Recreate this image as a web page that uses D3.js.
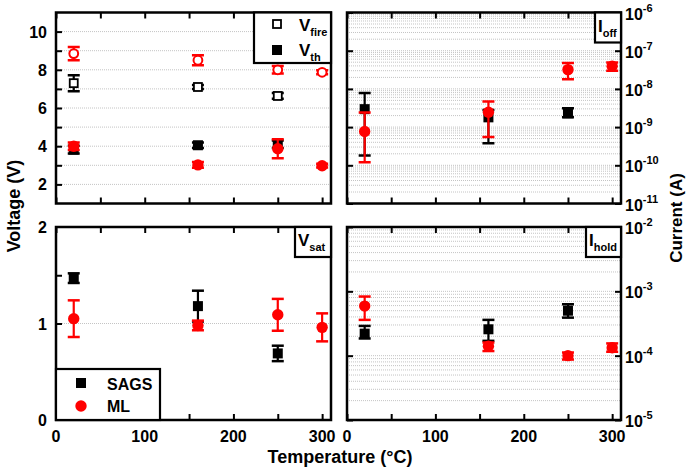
<!DOCTYPE html>
<html><head><meta charset="utf-8">
<script src="https://cdnjs.cloudflare.com/ajax/libs/d3/7.8.5/d3.min.js"></script>
<style>
html,body{margin:0;padding:0;background:#fff;}
svg{display:block;font-family:"Liberation Sans",Arial,sans-serif;font-weight:bold;}
</style></head>
<body><svg id="c" width="686" height="472"></svg>
<script>
// ---- data ----
const tempsSAGS = [20, 160, 250];
const tempsML = [20, 160, 250, 300];

const vfireSAGS = [7.3, 7.1, 6.63];
const vfireSAGSerr = [0.42, 0.1, 0.15];
const vfireML = [8.85, 8.5, 8.0, 7.87];
const vfireMLerr = [0.35, 0.26, 0.2, 0.1];
const vthSAGS = [3.82, 4.05, 4.1];
const vthSAGSerr = [0.2, 0.15, 0.2];
const vthML = [4.0, 3.02, 3.87, 2.98];
const vthMLerr = [0.2, 0.15, 0.5, 0.1];

const vsatSAGS = [1.47, 1.18, 0.69];
const vsatSAGSerr = [0.05, 0.16, 0.08];
const vsatML = [1.05, 0.98, 1.09, 0.96];
const vsatMLerr = [0.19, 0.05, 0.165, 0.145];

const ioffSAGS = [2.95e-9, 1.8e-9, 2.3e-9];
const ioffSAGSlo = [1.8e-10, 3.8e-10, 1.8e-9];
const ioffSAGShi = [7.8e-9, 2.8e-9, 3.1e-9];
const ioffML = [7.7e-10, 2.45e-9, 3.2e-8, 3.9e-8];
const ioffMLlo = [1.2e-10, 5.5e-10, 1.8e-8, 3.0e-8];
const ioffMLhi = [2.4e-9, 4.7e-9, 4.8e-8, 4.9e-8];

const iholdSAGS = [2.2e-4, 2.57e-4, 5.0e-4];
const iholdSAGSlo = [1.85e-4, 1.7e-4, 3.9e-4];
const iholdSAGShi = [2.9e-4, 3.6e-4, 6.3e-4];
const iholdML = [5.9e-4, 1.4e-4, 1.0e-4, 1.33e-4];
const iholdMLlo = [3.6e-4, 1.18e-4, 0.87e-4, 1.15e-4];
const iholdMLhi = [8.3e-4, 1.6e-4, 1.12e-4, 1.55e-4];

const xTicks = [0, 100, 200, 300];
const xMinorTicks = [50, 150, 250];
const vTopTicks = [2, 4, 6, 8, 10];
const vBotTicks = [0, 1, 2];
const ioffTicks = [-11, -10, -9, -8, -7, -6];
const iholdTicks = [-5, -4, -3, -2];

// ---- drawing ----
const svg = d3.select("#c");
const RED = "#ff0000", BLK = "#000000";

function zip(xs, ys, lo, hi) {
  return xs.map((x, i) => ({x, y: ys[i], lo: lo[i], hi: hi[i]}));
}
function sym(xs, ys, e) { return zip(xs, ys, ys.map((v,i)=>v-e[i]), ys.map((v,i)=>v+e[i])); }

function panel(opt) {
  const {x0, x1, y0, y1} = opt;
  const g = svg.append("g");
  const x = d3.scaleLinear().domain([0, 310]).range([x0, x1]);
  const y = (opt.log ? d3.scaleLog() : d3.scaleLinear()).domain(opt.ydom).range([y1, y0]);
  g.append("g").selectAll("line").data(opt.grid).join("line")
    .attr("x1", x0).attr("x2", x1).attr("y1", d => y(d)).attr("y2", d => y(d))
    .attr("stroke", "#c4c4c4").attr("stroke-width", 1).attr("stroke-dasharray", "1,1");
  const allx = xTicks.concat(xMinorTicks);
  const tl = 6;
  g.append("g").call(d3.axisBottom(x).tickValues(allx).tickSize(-tl).tickFormat(""))
    .attr("transform", `translate(0,${y1})`).call(a => a.select(".domain").remove());
  g.append("g").call(d3.axisTop(x).tickValues(allx).tickSize(-tl).tickFormat(""))
    .attr("transform", `translate(0,${y0})`).call(a => a.select(".domain").remove());
  g.append("g").call(d3.axisLeft(y).tickValues(opt.yticks).tickSize(-tl).tickFormat(""))
    .attr("transform", `translate(${x0},0)`).call(a => a.select(".domain").remove());
  if (opt.rightTicks) {
    g.append("g").call(d3.axisRight(y).tickValues(opt.yticks).tickSize(-tl).tickFormat(""))
      .attr("transform", `translate(${x1},0)`).call(a => a.select(".domain").remove());
  }
  g.selectAll(".tick line").attr("stroke", "#000").attr("stroke-width", 2);
  if (opt.xlabels) {
    g.append("g").selectAll("text").data(xTicks).join("text")
      .attr("x", d => x(d)).attr("y", y1 + 22).attr("text-anchor", "middle")
      .attr("font-size", 16).text(d => d);
  }
  if (opt.ylabelsLeft) {
    g.append("g").selectAll("text").data(opt.ylabelsLeft).join("text")
      .attr("x", x0 - 9).attr("y", d => y(d) + 6).attr("text-anchor", "end")
      .attr("font-size", 16).text(d => d);
  }
  if (opt.ylabelsRight) {
    const t = g.append("g").selectAll("text").data(opt.ylabelsRight).join("text")
      .attr("x", x1 + 4).attr("y", d => y(Math.pow(10, d)) + 7).attr("font-size", 16);
    t.append("tspan").text("10");
    t.append("tspan").attr("font-size", 11).attr("dy", -8).text(d => "-" + Math.abs(d));
  }
  const clip = "clip" + Math.round(x0) + "_" + Math.round(y0);
  svg.append("clipPath").attr("id", clip).append("rect")
    .attr("x", x0).attr("y", y0).attr("width", x1 - x0).attr("height", y1 - y0);
  const sg = g.append("g").attr("clip-path", `url(#${clip})`);
  opt.series.forEach(s => {
    const eg = sg.append("g");
    eg.selectAll("line.v").data(s.data).join("line")
      .attr("x1", d => x(d.x)).attr("x2", d => x(d.x))
      .attr("y1", d => y(d.lo)).attr("y2", d => y(d.hi))
      .attr("stroke", s.color).attr("stroke-width", 2.2);
    ["lo", "hi"].forEach(k => {
      eg.selectAll("line." + k).data(s.data).join("line")
        .attr("x1", d => x(d.x) - 6).attr("x2", d => x(d.x) + 6)
        .attr("y1", d => y(d[k])).attr("y2", d => y(d[k]))
        .attr("stroke", s.color).attr("stroke-width", 2.5);
    });
    const mg = sg.append("g");
    if (s.shape === "square") {
      const sz = s.open ? 8 : 10;
      mg.selectAll("rect").data(s.data).join("rect")
        .attr("x", d => x(d.x) - sz / 2).attr("y", d => y(d.y) - sz / 2)
        .attr("width", sz).attr("height", sz)
        .attr("fill", s.open ? "#fff" : s.color)
        .attr("stroke", s.color).attr("stroke-width", s.open ? 1.8 : 0);
    } else {
      const r = s.open ? 4.4 : 5.7;
      mg.selectAll("circle").data(s.data).join("circle")
        .attr("cx", d => x(d.x)).attr("cy", d => y(d.y)).attr("r", r)
        .attr("fill", s.open ? "#fff" : s.color)
        .attr("stroke", s.color).attr("stroke-width", s.open ? 2 : 0);
    }
  });
  g.append("rect").attr("x", x0).attr("y", y0).attr("width", x1 - x0).attr("height", y1 - y0)
    .attr("fill", "none").attr("stroke", "#000").attr("stroke-width", 2.5);
  if (opt.label) {
    const L = opt.label;
    g.append("rect").attr("x", x1 - L.w).attr("y", y0).attr("width", L.w).attr("height", L.h)
      .attr("fill", "#fff").attr("stroke", "#000").attr("stroke-width", 2.2);
    const t = g.append("text").attr("x", x1 - L.w + 3).attr("y", y0 + 19).attr("font-size", 17);
    t.append("tspan").text(L.main);
    t.append("tspan").attr("font-size", 11).attr("dy", 5).text(L.sub);
  }
  return {x, y, g};
}

const gridLin1 = d3.range(2, 11);
function logGrid(a, b) {
  const out = [];
  for (let e = a; e < b; e++) for (let k = 1; k < 10; k++) out.push(k * Math.pow(10, e));
  return out;
}

panel({
  x0: 56, x1: 331, y0: 12.5, y1: 203.5, ydom: [1, 11],
  grid: gridLin1, yticks: d3.range(2, 11), ylabelsLeft: vTopTicks,
  series: [
    {data: sym(tempsSAGS, vfireSAGS, vfireSAGSerr), color: BLK, shape: "square", open: true},
    {data: sym(tempsSAGS, vthSAGS, vthSAGSerr), color: BLK, shape: "square", open: false},
    {data: sym(tempsML, vfireML, vfireMLerr), color: RED, shape: "circle", open: true},
    {data: sym(tempsML, vthML, vthMLerr), color: RED, shape: "circle", open: false}
  ]
});
{
  const g = svg.append("g");
  g.append("rect").attr("x", 254).attr("y", 12.5).attr("width", 77).attr("height", 50.5)
    .attr("fill", "#fff").attr("stroke", "#000").attr("stroke-width", 2.2);
  g.append("rect").attr("x", 273).attr("y", 20).attr("width", 8).attr("height", 8)
    .attr("fill", "#fff").attr("stroke", "#000").attr("stroke-width", 1.8);
  g.append("rect").attr("x", 272).attr("y", 45).attr("width", 10).attr("height", 10).attr("fill", "#000");
  const t1 = g.append("text").attr("x", 299).attr("y", 31).attr("font-size", 17);
  t1.append("tspan").text("V");
  t1.append("tspan").attr("font-size", 11).attr("dy", 5).text("fire");
  const t2 = g.append("text").attr("x", 299).attr("y", 56).attr("font-size", 17);
  t2.append("tspan").text("V");
  t2.append("tspan").attr("font-size", 11).attr("dy", 5).text("th");
}

panel({
  x0: 347, x1: 621, y0: 12.5, y1: 203.5, ydom: [1e-11, 1e-6], log: true,
  grid: logGrid(-11, -6), yticks: ioffTicks.map(e => Math.pow(10, e)), rightTicks: true,
  ylabelsRight: ioffTicks,
  label: {w: 26, h: 30, main: "I", sub: "off"},
  series: [
    {data: zip(tempsSAGS, ioffSAGS, ioffSAGSlo, ioffSAGShi), color: BLK, shape: "square"},
    {data: zip(tempsML, ioffML, ioffMLlo, ioffMLhi), color: RED, shape: "circle"}
  ]
});

panel({
  x0: 56, x1: 331, y0: 227, y1: 420, ydom: [0, 2],
  grid: [1], yticks: [0.5, 1, 1.5], ylabelsLeft: vBotTicks, xlabels: true,
  label: {w: 36, h: 30, main: "V", sub: "sat"},
  series: [
    {data: sym(tempsSAGS, vsatSAGS, vsatSAGSerr), color: BLK, shape: "square"},
    {data: sym(tempsML, vsatML, vsatMLerr), color: RED, shape: "circle"}
  ]
});
{
  const g = svg.append("g");
  g.append("rect").attr("x", 56).attr("y", 369).attr("width", 104).attr("height", 51)
    .attr("fill", "#fff").attr("stroke", "#000").attr("stroke-width", 2.2);
  g.append("rect").attr("x", 76).attr("y", 378).attr("width", 10).attr("height", 10).attr("fill", BLK);
  g.append("circle").attr("cx", 81).attr("cy", 406).attr("r", 5.7).attr("fill", RED);
  g.append("text").attr("x", 107).attr("y", 390).attr("font-size", 16).text("SAGS");
  g.append("text").attr("x", 107).attr("y", 412).attr("font-size", 16).text("ML");
}

panel({
  x0: 347, x1: 621, y0: 227, y1: 420, ydom: [1e-5, 1e-2], log: true,
  grid: logGrid(-5, -2), yticks: iholdTicks.map(e => Math.pow(10, e)), rightTicks: true,
  ylabelsRight: iholdTicks, xlabels: true,
  label: {w: 35, h: 30, main: "I", sub: "hold"},
  series: [
    {data: zip(tempsSAGS, iholdSAGS, iholdSAGSlo, iholdSAGShi), color: BLK, shape: "square"},
    {data: zip(tempsML, iholdML, iholdMLlo, iholdMLhi), color: RED, shape: "circle"}
  ]
});

svg.append("text").attr("transform", "translate(20,206) rotate(-90)")
  .attr("text-anchor", "middle").attr("font-size", 18).text("Voltage (V)");
svg.append("text").attr("transform", "translate(682,218) rotate(-90)")
  .attr("text-anchor", "middle").attr("font-size", 17).text("Current (A)");
svg.append("text").attr("x", 340).attr("y", 463)
  .attr("text-anchor", "middle").attr("font-size", 18).text("Temperature (°C)");
</script></body></html>
